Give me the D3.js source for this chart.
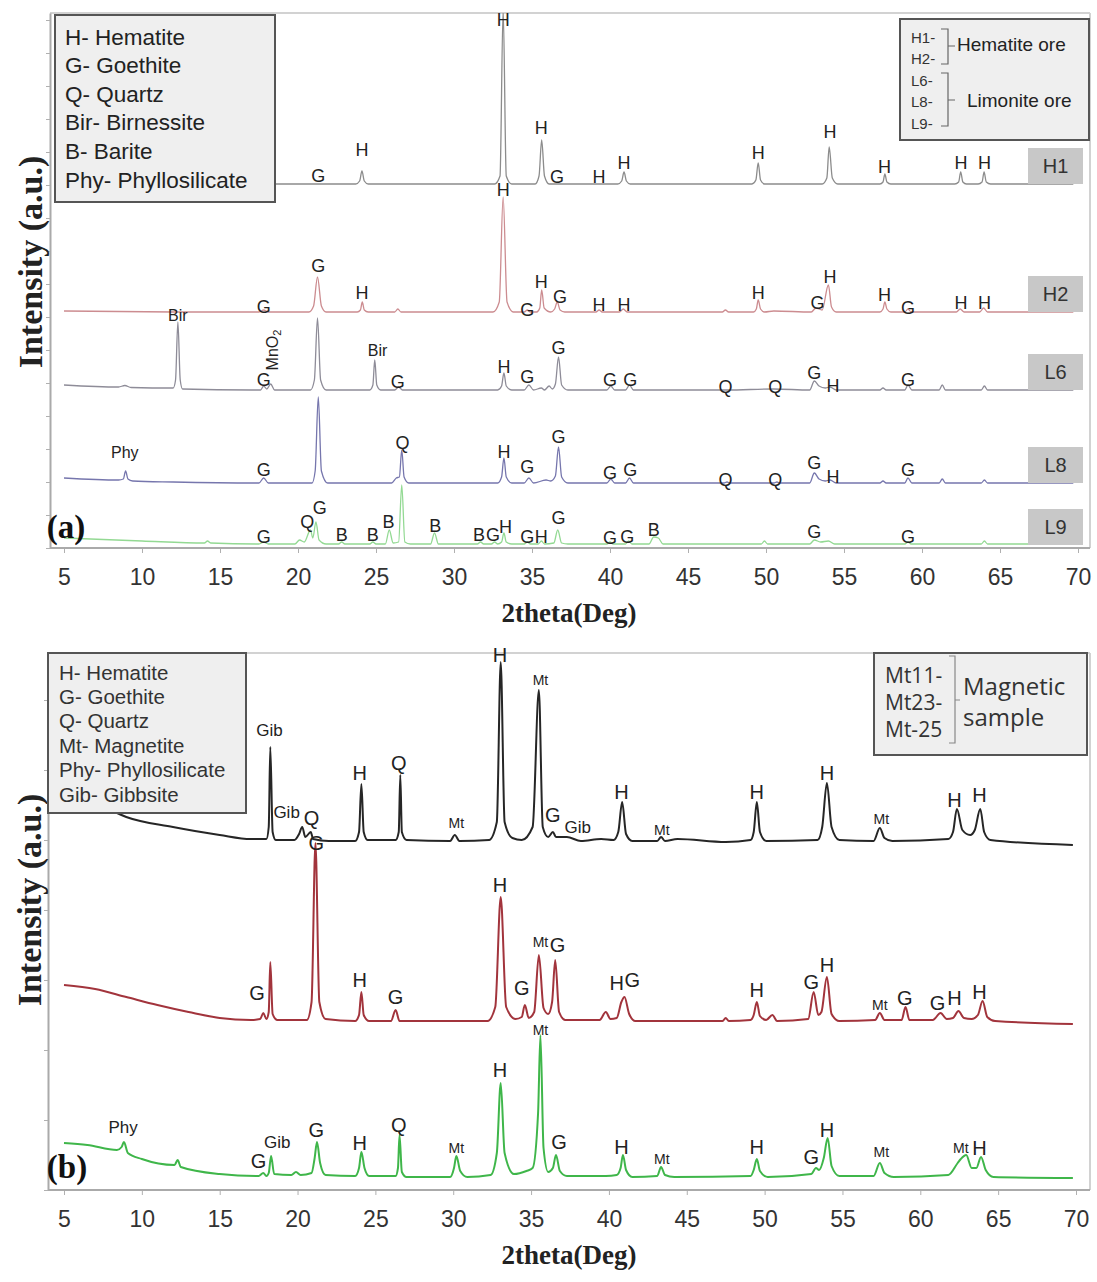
<!DOCTYPE html>
<html><head><meta charset="utf-8">
<script src="https://cdn.jsdelivr.net/npm/d3@7"></script>
<style>body{margin:0;background:#fff} svg{display:block}</style>
</head><body><svg id="c" width="1097" height="1282"></svg>
<script>
// ---------------- DATA ----------------
const xTicks = [5,10,15,20,25,30,35,40,45,50,55,60,65,70];
const yTicksA = [0,66,132,198,264,330,396,462,528,594,660,726,792,858,924,990,1056];
const yTicksB = [0,140,280,420,560,700,840,980];

// Panel (a) – sample names, stacking offsets, patterns [2theta, intensity above own baseline]
const namesA = ["H1","H2","L6","L8","L9"];
const offsetsA = [728,472,316,130,6];
const H1 = [[5,0],[20.8,0],[23.7,0],[23.95,6],[24.1,26],[24.25,6],[24.5,0],[32.6,0],[32.95,16],[33.15,350],[33.35,16],[33.7,0],[35.2,0],[35.45,16],[35.62,88],[35.8,16],[36.1,0],[40.5,0],[40.75,6],[40.9,24],[41.05,6],[41.3,0],[49.1,0],[49.35,8],[49.5,42],[49.65,8],[49.9,0],[53.6,0],[53.9,12],[54.05,74],[54.25,12],[54.6,0],[57.3,0],[57.5,4],[57.62,20],[57.75,4],[58,0],[62.1,0],[62.35,4],[62.48,24],[62.62,4],[62.85,0],[63.6,0],[63.85,4],[63.98,24],[64.12,4],[64.4,0],[69.7,0]];
const H2 = [[5,2],[12,0],[17.5,0],[17.8,4],[18.1,0],[20.7,0],[21.0,12],[21.25,70],[21.5,12],[21.8,0],[23.8,0],[24.0,4],[24.12,20],[24.25,4],[24.5,0],[26.2,0],[26.4,6],[26.6,0],[32.5,0],[32.9,20],[33.15,230],[33.4,20],[33.8,0],[34.5,0],[34.7,4],[34.9,0],[35.3,0],[35.5,8],[35.62,44],[35.78,8],[36.2,0],[36.45,6],[36.62,20],[36.8,4],[37.1,0],[39.1,0],[39.3,4],[39.5,0],[40.6,0],[40.85,6],[41.1,0],[47.2,0],[47.4,4],[47.6,0],[49.2,0],[49.38,6],[49.5,24],[49.65,6],[49.9,0],[50.5,2],[52.9,0],[53.2,8],[53.6,4],[54.0,54],[54.2,10],[54.5,0],[57.3,0],[57.5,6],[57.62,20],[57.75,6],[58,0],[58.9,0],[59.1,6],[59.3,0],[62.2,0],[62.45,6],[62.7,0],[63.7,0],[63.95,8],[64.2,0],[69.7,0]];
const L6 = [[5,10],[8.5,6],[8.9,9],[9.3,5],[12,4],[12.15,20],[12.3,136],[12.45,20],[12.6,2],[17,0],[17.6,0],[17.8,8],[18.0,2],[18.25,12],[18.5,0],[20.8,0],[21.05,20],[21.25,144],[21.45,20],[21.8,0],[24.6,0],[24.8,10],[24.92,60],[25.05,10],[25.3,0],[26.2,0],[26.45,6],[26.7,0],[32.8,0],[33.05,8],[33.2,34],[33.35,8],[33.7,0],[34.5,0],[34.8,10],[35.1,0],[35.6,4],[35.8,0],[36.1,8],[36.3,2],[36.5,12],[36.7,66],[36.9,10],[37.3,0],[39.8,0],[40.05,8],[40.3,0],[41.0,0],[41.25,10],[41.5,0],[47.5,0],[50.5,2],[52.8,0],[53.1,18],[53.4,8],[53.8,4],[54.1,6],[54.5,0],[57.3,0],[57.5,4],[57.7,0],[58.9,0],[59.1,10],[59.35,0],[61.1,0],[61.3,10],[61.5,0],[63.8,0],[64.0,8],[64.2,0],[69.7,0]];
const L8 = [[5,10],[8.5,6],[8.8,8],[8.95,24],[9.1,8],[9.4,4],[12,2],[17.5,0],[17.8,10],[18.1,0],[20.9,0],[21.1,24],[21.3,172],[21.5,24],[21.9,0],[26.0,0],[26.3,10],[26.5,12],[26.65,66],[26.8,12],[27.1,0],[32.8,0],[33.05,12],[33.2,50],[33.35,12],[33.7,0],[34.5,0],[34.8,10],[35.1,0],[35.9,6],[36.2,4],[36.5,14],[36.7,72],[36.9,12],[37.3,0],[39.8,0],[40.05,8],[40.3,0],[41.0,0],[41.25,10],[41.5,0],[47.3,0],[47.5,2],[47.7,0],[50.5,0],[50.7,2],[50.9,0],[52.8,0],[53.1,20],[53.4,8],[53.8,4],[54.1,6],[54.5,0],[57.3,0],[57.5,4],[57.7,0],[58.9,0],[59.1,10],[59.35,0],[61.1,0],[61.3,8],[61.5,0],[63.8,0],[64.0,6],[64.2,0],[69.7,0]];
const L9 = [[5,14],[10,8],[14,4],[14.2,8],[14.4,4],[17.5,2],[17.8,6],[18.1,2],[19.8,2],[20.1,10],[20.4,6],[20.8,30],[20.95,14],[21.15,46],[21.35,10],[21.8,2],[22.6,2],[22.8,6],[23.0,2],[24.6,2],[24.8,6],[25.0,2],[25.6,2],[25.85,30],[26.1,4],[26.45,6],[26.65,120],[26.85,6],[27.2,2],[28.5,2],[28.75,24],[29.0,2],[31.5,2],[31.7,6],[31.9,2],[32.4,2],[32.6,6],[32.8,2],[33.05,6],[33.2,24],[33.35,6],[33.7,2],[34.5,2],[34.7,6],[34.9,2],[35.4,2],[35.6,8],[35.8,2],[36.4,4],[36.65,30],[36.9,4],[37.3,2],[39.8,2],[40.0,6],[40.2,2],[41.0,2],[41.2,8],[41.4,2],[42.5,2],[42.8,16],[43.1,14],[43.4,2],[49.7,2],[49.9,8],[50.1,2],[52.8,2],[53.1,10],[53.5,6],[54.0,8],[54.4,2],[58.9,2],[59.1,6],[59.3,2],[63.8,2],[64.0,8],[64.2,2],[69.7,2]];
// phase labels in panel (a): [2theta, intensity, text]
const labelsA = [
 [21.3,744,"G"],[24.1,796,"H"],[33.15,1056,"H"],[35.6,840,"H"],[36.6,742,"G"],[39.3,742,"H"],[40.9,770,"H"],[49.5,790,"H"],[54.1,832,"H"],[57.6,762,"H"],[62.5,770,"H"],[64.0,770,"H"],
 [12.3,466,"Bir"],[17.8,482,"G"],[21.3,564,"G"],[24.1,510,"H"],[33.15,716,"H"],[34.7,476,"G"],[35.6,532,"H"],[36.8,502,"G"],[39.3,486,"H"],[40.9,486,"H"],[49.5,510,"H"],[53.3,490,"G"],[54.1,542,"H"],[57.6,506,"H"],[59.1,480,"G"],[62.5,490,"H"],[64.0,490,"H"],
 [17.8,336,"G"],[25.1,396,"Bir"],[26.4,332,"G"],[33.2,362,"H"],[34.7,342,"G"],[36.7,400,"G"],[40.0,336,"G"],[41.3,336,"G"],[47.4,322,"Q"],[50.6,322,"Q"],[53.1,350,"G"],[54.3,324,"H"],[59.1,336,"G"],
 [8.9,192,"Phy"],[17.8,156,"G"],[26.7,210,"Q"],[33.2,192,"H"],[34.7,162,"G"],[36.7,222,"G"],[40.0,150,"G"],[41.3,156,"G"],[47.4,136,"Q"],[50.6,136,"Q"],[53.1,170,"G"],[54.3,142,"H"],[59.1,156,"G"],
 [17.8,22,"G"],[20.6,52,"Q"],[21.4,80,"G"],[22.8,26,"B"],[24.8,26,"B"],[25.8,52,"B"],[28.8,44,"B"],[31.6,26,"B"],[32.5,26,"G"],[33.3,42,"H"],[34.7,22,"G"],[35.6,22,"H"],[36.7,60,"G"],[40.0,20,"G"],[41.1,22,"G"],[42.8,36,"B"],[53.1,32,"G"],[59.1,22,"G"]
];
// rotated MnO2 annotation
const mno2A = [18.35,396];

// Panel (b)
const namesB = ["Mt11","Mt23","Mt-25"];
const offsetsB = [696,336,24];
const Mt11 = [[5,110],[7,80],[9,50],[12,30],[15,14],[17,6],[18.0,6],[18.15,30],[18.25,190],[18.4,20],[18.6,4],[19.8,4],[20.1,16],[20.3,30],[20.5,10],[20.85,20],[21.0,6],[22,2],[23.7,2],[23.95,20],[24.1,116],[24.25,20],[24.5,4],[26.3,4],[26.5,20],[26.6,134],[26.7,20],[27,4],[29.8,2],[30.1,14],[30.4,2],[32.3,4],[32.8,40],[33.05,360],[33.3,40],[33.8,8],[34.4,4],[35.1,30],[35.5,304],[35.75,30],[36.1,10],[36.4,20],[36.6,10],[37.3,10],[38.2,2],[39.5,6],[40.3,4],[40.6,20],[40.85,80],[41.1,16],[41.5,2],[43.1,2],[43.35,10],[43.6,2],[44.4,6],[47.5,0],[49.1,4],[49.3,20],[49.5,80],[49.7,20],[50.1,2],[53.4,4],[53.7,30],[54.0,118],[54.3,30],[54.8,4],[57.0,2],[57.4,28],[57.7,8],[58.2,2],[61.8,6],[62.1,20],[62.35,66],[62.7,24],[63.2,14],[63.5,24],[63.85,66],[64.1,20],[64.5,4],[69.8,-6]];
const Mt23 = [[5,74],[7,66],[9,50],[11,34],[13,20],[15,8],[17,4],[17.6,6],[17.8,18],[18.0,6],[18.15,20],[18.25,120],[18.4,16],[18.7,4],[20.6,4],[20.9,40],[21.15,358],[21.4,40],[21.8,6],[23.7,2],[23.95,14],[24.1,60],[24.25,14],[24.6,2],[26.0,2],[26.3,24],[26.55,2],[32.2,2],[32.7,30],[33.05,250],[33.4,30],[34.0,6],[34.4,10],[34.6,34],[34.85,8],[35.2,20],[35.5,134],[35.8,28],[36.1,16],[36.35,40],[36.55,124],[36.8,20],[37.2,4],[39.4,4],[39.8,20],[40.1,6],[40.5,8],[40.8,40],[41.0,50],[41.3,16],[41.7,2],[47.3,2],[47.5,8],[47.7,2],[49.1,4],[49.3,14],[49.5,40],[49.7,12],[50.1,4],[50.5,14],[50.8,2],[52.8,6],[53.15,60],[53.45,14],[53.65,20],[54.0,90],[54.3,16],[54.8,2],[57.1,4],[57.4,18],[57.7,4],[58.8,4],[59.05,30],[59.3,4],[60.8,4],[61.3,18],[61.7,6],[62.1,8],[62.45,22],[62.8,8],[63.3,6],[63.7,14],[64.0,42],[64.3,10],[64.8,2],[69.8,-4]];
const Mt25 = [[5,70],[6.5,66],[8.4,56],[8.7,62],[8.85,72],[9.1,50],[10,38],[12.1,26],[12.3,36],[12.5,22],[15,8],[17.5,4],[17.8,10],[18.0,4],[18.15,10],[18.3,44],[18.5,8],[19.6,6],[19.9,12],[20.2,6],[20.9,10],[21.1,40],[21.25,72],[21.45,30],[21.8,6],[23.7,4],[23.95,20],[24.1,52],[24.3,20],[24.6,4],[26.3,4],[26.45,20],[26.55,86],[26.7,12],[27,2],[29.8,2],[30.05,20],[30.2,44],[30.45,14],[30.9,2],[32.4,6],[32.8,50],[33.05,190],[33.3,50],[33.9,8],[34.7,14],[35.1,20],[35.45,130],[35.6,286],[35.8,60],[36.1,12],[36.4,20],[36.6,46],[36.85,14],[37.3,4],[39.8,4],[40.5,6],[40.75,20],[40.9,46],[41.1,16],[41.5,2],[43.1,4],[43.35,22],[43.6,6],[44.2,2],[49.1,4],[49.3,16],[49.5,38],[49.7,14],[50.2,2],[53.0,8],[53.3,20],[53.5,16],[53.8,40],[54.05,80],[54.3,24],[54.8,4],[57.0,4],[57.4,30],[57.7,10],[58.3,2],[61.8,6],[62.4,30],[62.6,38],[62.95,46],[63.3,20],[63.6,20],[63.9,42],[64.2,16],[64.7,2],[69.8,0]];
const labelsB = [
 [18.2,920,"Gib"],[19.3,756,"Gib"],[20.9,744,"Q"],[21.2,694,"G"],[24.0,834,"H"],[26.5,854,"Q"],[30.2,734,"Mt"],[33.0,1070,"H"],[35.6,1020,"Mt"],[36.4,750,"G"],[38.0,726,"Gib"],[40.8,796,"H"],[43.4,720,"Mt"],[49.5,796,"H"],[54.0,834,"H"],[57.5,742,"Mt"],[62.2,780,"H"],[63.8,790,"H"],
 [17.4,394,"G"],[24.0,420,"H"],[26.3,386,"G"],[33.0,610,"H"],[34.4,404,"G"],[35.6,496,"Mt"],[36.7,490,"G"],[40.5,414,"H"],[41.5,420,"G"],[49.5,400,"H"],[53.0,416,"G"],[54.0,450,"H"],[57.4,370,"Mt"],[59.0,384,"G"],[61.1,374,"G"],[62.2,384,"H"],[63.8,396,"H"],
 [8.8,126,"Phy"],[17.5,58,"G"],[18.7,96,"Gib"],[21.2,120,"G"],[24.0,94,"H"],[26.5,130,"Q"],[30.2,84,"Mt"],[33.0,240,"H"],[35.6,320,"Mt"],[36.8,96,"G"],[40.8,86,"H"],[43.4,62,"Mt"],[49.5,86,"H"],[53.0,66,"G"],[54.0,120,"H"],[57.5,76,"Mt"],[62.6,84,"Mt"],[63.8,84,"H"]
];

const legendA = ["H- Hematite","G- Goethite","Q- Quartz","Bir- Birnessite","B- Barite","Phy- Phyllosilicate"];
const legendB = ["H- Hematite","G- Goethite","Q- Quartz","Mt- Magnetite","Phy- Phyllosilicate","Gib- Gibbsite"];
const groupA1 = ["H1-","H2-"], groupA1Name = "Hematite ore";
const groupA2 = ["L6-","L8-","L9-"], groupA2Name = "Limonite ore";
const groupB = ["Mt11-","Mt23-","Mt-25"], groupBName = ["Magnetic","sample"];

// ---------------- DRAWING ----------------
const SANS = "'Liberation Sans', Arial, sans-serif";
const SERIF = "'Liberation Serif', 'Times New Roman', serif";
const svg = d3.select("#c");

function drawPanel(o){
  const g = svg.append("g");
  const x = d3.scaleLinear().domain([5,70]).range([o.x0, o.x1]);
  const y = d3.scaleLinear().domain([0, o.ymax]).range([o.bottom, o.top]);
  const cid = "clip" + o.id;
  svg.append("clipPath").attr("id", cid).append("rect")
    .attr("x", o.left).attr("y", o.top).attr("width", o.right - o.left).attr("height", o.bottom - o.top);
  // frame
  g.append("line").attr("x1", o.left).attr("x2", o.right).attr("y1", o.top).attr("y2", o.top)
    .attr("stroke", "#d2d2d2").attr("stroke-width", 2);
  g.append("line").attr("x1", o.right).attr("x2", o.right).attr("y1", o.top).attr("y2", o.bottom)
    .attr("stroke", "#d2d2d2").attr("stroke-width", 2);
  // axes
  const ax = g.append("g").attr("transform", `translate(0,${o.bottom})`)
    .call(d3.axisBottom(x).tickValues(xTicks).tickSize(5).tickPadding(16).tickSizeOuter(0));
  ax.select(".domain").remove();
  ax.selectAll(".tick line").attr("stroke", "#b0b0b0");
  ax.selectAll(".tick text").attr("font-family", SANS).attr("font-size", 23).attr("fill", "#333");
  g.append("line").attr("x1", o.left).attr("x2", o.right).attr("y1", o.bottom).attr("y2", o.bottom)
    .attr("stroke", "#aaa").attr("stroke-width", 2);
  const ay = g.append("g").attr("transform", `translate(${o.left},0)`)
    .call(d3.axisLeft(y).tickValues(o.yTicks).tickSize(4).tickSizeOuter(0).tickFormat(""));
  ay.select(".domain").attr("stroke", "#aaa").attr("stroke-width", 2);
  ay.selectAll(".tick line").attr("stroke", "#b0b0b0");

  // traces
  const tr = g.append("g").attr("clip-path", `url(#${cid})`);
  o.series.forEach((s, i) => {
    const off = o.offsets[i];
    const line = d3.line().x(d => x(d[0])).y(d => y(d[1] + off)).curve(d3.curveMonotoneX);
    tr.append("path").attr("d", line(s)).attr("fill", "none")
      .attr("stroke", o.colors[i]).attr("stroke-width", o.sw).attr("stroke-linejoin", "round");
  });
  // phase labels
  g.append("g").selectAll("text").data(o.labels).join("text")
    .attr("x", d => x(d[0])).attr("y", d => y(d[1]))
    .attr("text-anchor", "middle").attr("dominant-baseline", "central")
    .attr("font-family", SANS).attr("fill", "#222")
    .attr("font-size", d => o.fs[d[2]] || o.fs.def)
    .text(d => d[2]);
  return {g, x, y};
}

// Panel (a)
const A = drawPanel({id:"A", left:50, right:1090, top:13, bottom:548, x0:64, x1:1078, ymax:1070,
  yTicks:yTicksA, series:[H1,H2,L6,L8,L9], offsets:offsetsA,
  colors:["#8c8c8c","#cc8c90","#8e8c98","#7676ad","#93d993"], sw:1.3,
  labels:labelsA, fs:{def:18, Bir:16, Phy:16}});
// MnO2 rotated label
{
  const t = A.g.append("text").attr("transform", `translate(${A.x(mno2A[0])},${A.y(mno2A[1])}) rotate(-90)`)
    .attr("text-anchor","middle").attr("dominant-baseline","central")
    .attr("font-family", SANS).attr("font-size", 16).attr("fill","#222");
  t.append("tspan").text("MnO");
  t.append("tspan").attr("font-size", 11).attr("dy", 5).text("2");
}
// sample tags panel (a)
namesA.forEach((n, i) => {
  const cy = A.y(offsetsA[i]) - 18;
  A.g.append("rect").attr("x", 1028).attr("y", cy - 18).attr("width", 55).attr("height", 36).attr("fill", "#c8c8c8");
  A.g.append("text").attr("x", 1055.5).attr("y", cy).attr("text-anchor","middle").attr("dominant-baseline","central")
    .attr("font-family", SANS).attr("font-size", 20).attr("fill","#333").text(n);
});

// Panel (b)
const B = drawPanel({id:"B", left:48, right:1090, top:653, bottom:1190, x0:64, x1:1076, ymax:1074,
  yTicks:yTicksB, series:[Mt11,Mt23,Mt25], offsets:offsetsB,
  colors:["#262626","#a2343c","#3fb64a"], sw:2,
  labels:labelsB, fs:{def:20, Gib:17, Phy:17, Mt:14}});

// Axis titles and panel letters
function yTitle(cx, cy){
  svg.append("text").attr("transform", `translate(${cx},${cy}) rotate(-90)`)
    .attr("text-anchor","middle").attr("dominant-baseline","central")
    .attr("font-family", SERIF).attr("font-weight","bold").attr("font-size", 34).attr("fill","#222")
    .text("Intensity (a.u.)");
}
yTitle(30, 262); yTitle(29, 900);
[[569,613],[569,1255]].forEach(p => svg.append("text").attr("x",p[0]).attr("y",p[1])
  .attr("text-anchor","middle").attr("dominant-baseline","central")
  .attr("font-family", SERIF).attr("font-weight","bold").attr("font-size", 27).attr("fill","#222").text("2theta(Deg)"));
[[66,527,"(a)"],[67,1167,"(b)"]].forEach(p => svg.append("text").attr("x",p[0]).attr("y",p[1])
  .attr("text-anchor","middle").attr("dominant-baseline","central")
  .attr("font-family", SERIF).attr("font-weight","bold").attr("font-size", 33).attr("fill","#111").text(p[2]));

// Legend boxes
function box(x, y, w, h){
  svg.append("rect").attr("x",x).attr("y",y).attr("width",w).attr("height",h)
    .attr("fill","#efefef").attr("stroke","#555").attr("stroke-width",2);
}
box(55, 15, 220, 187);
legendA.forEach((t,i) => svg.append("text").attr("x",65).attr("y",37 + i*28.6).attr("dominant-baseline","central")
  .attr("font-family", SANS).attr("font-size", 22.5).attr("fill","#222").text(t));
box(48, 653, 198, 160);
legendB.forEach((t,i) => svg.append("text").attr("x",59).attr("y",672 + i*24.4).attr("dominant-baseline","central")
  .attr("font-family", SANS).attr("font-size", 20.5).attr("fill","#333").text(t));

// right legend (a)
box(900, 19, 189, 121);
[...groupA1, ...groupA2].forEach((t,i) => svg.append("text").attr("x",911).attr("y",37 + i*21.5).attr("dominant-baseline","central")
  .attr("font-family", SANS).attr("font-size", 15).attr("fill","#333").text(t));
const br = svg.append("g").attr("fill","none").attr("stroke","#666").attr("stroke-width",1.2);
br.append("path").attr("d","M941 29 H948 V64 H941 M948 46 H955");
br.append("path").attr("d","M941 73 H948 V126 H941 M948 100 H955");
svg.append("text").attr("x",957).attr("y",44).attr("dominant-baseline","central")
  .attr("font-family", SANS).attr("font-size", 19).attr("fill","#222").text(groupA1Name);
svg.append("text").attr("x",967).attr("y",100).attr("dominant-baseline","central")
  .attr("font-family", SANS).attr("font-size", 19).attr("fill","#222").text(groupA2Name);

// right legend (b)
box(874, 653, 213, 102);
groupB.forEach((t,i) => svg.append("text").attr("x",885).attr("y",675 + i*27).attr("dominant-baseline","central")
  .attr("font-family", "'Open Sans', 'Noto Sans', sans-serif").attr("font-size", 21).attr("fill","#333").text(t));
svg.append("path").attr("d","M949 656 H955 V743 H949 M955 700 H960").attr("fill","none").attr("stroke","#888").attr("stroke-width",1.2);
groupBName.forEach((t,i) => svg.append("text").attr("x",963).attr("y",685 + i*31).attr("dominant-baseline","central")
  .attr("font-family", "'Open Sans', 'Noto Sans', sans-serif").attr("font-size", 24).attr("fill","#333").text(t));
</script></body></html>
